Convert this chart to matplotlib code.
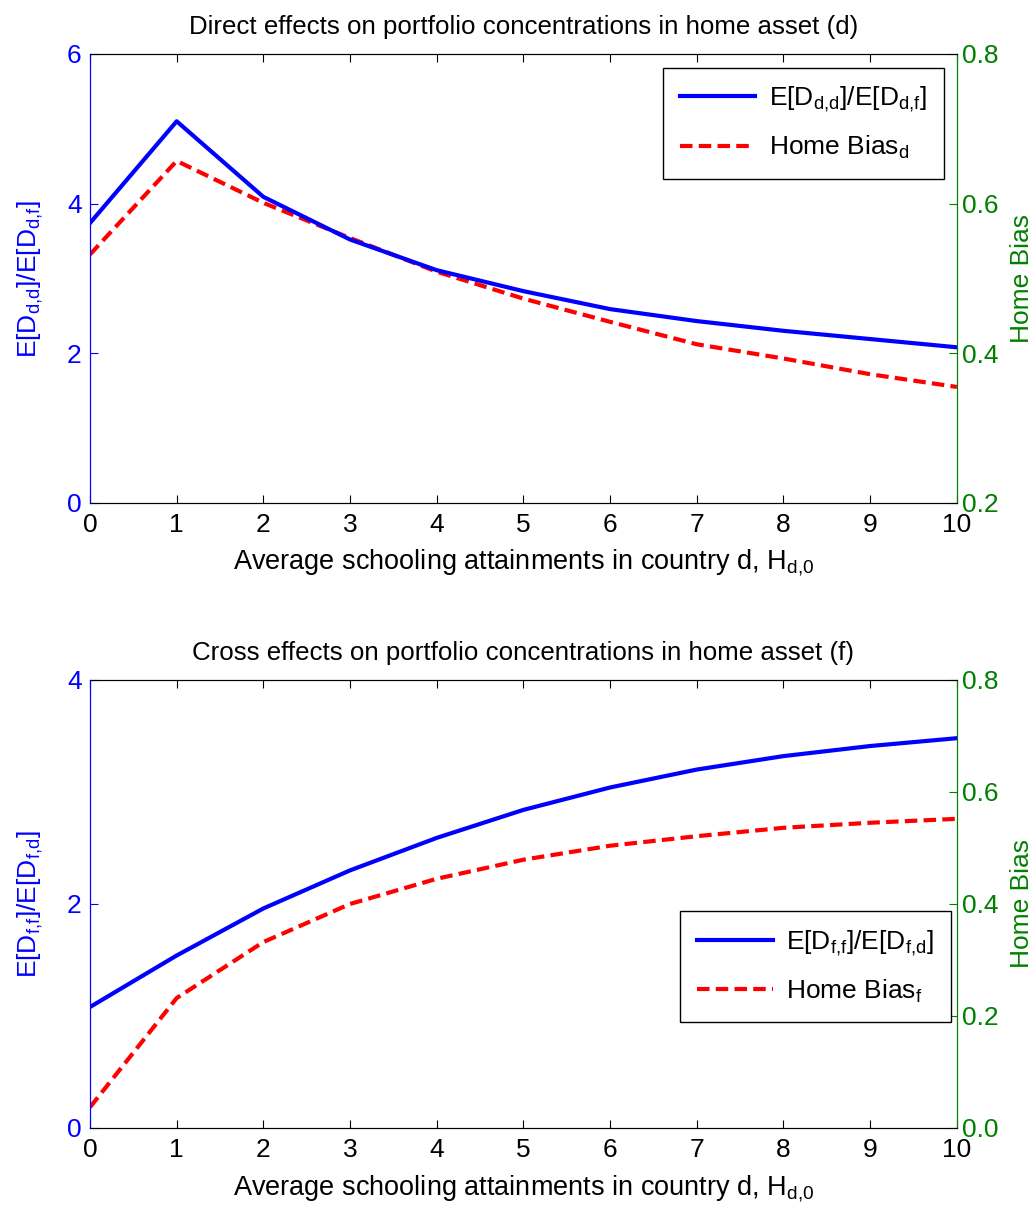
import matplotlib

matplotlib.use("Agg")
import matplotlib.pyplot as plt

plt.rcParams["font.family"] = ["Liberation Sans", "DejaVu Sans"]
plt.rcParams["mathtext.fontset"] = "custom"
plt.rcParams["mathtext.rm"] = "Liberation Sans"
plt.rcParams["mathtext.it"] = "Liberation Sans"
plt.rcParams["mathtext.default"] = "regular"

schooling = [0, 1, 2, 3, 4, 5, 6, 7, 8, 9, 10]

# top panel: direct effects
ratio_d = [3.74, 5.10, 4.09, 3.52, 3.11, 2.83, 2.59, 2.43, 2.30, 2.19, 2.08]
bias_d = [0.532, 0.657, 0.601, 0.554, 0.509, 0.473, 0.442, 0.412, 0.393, 0.372, 0.355]

# bottom panel: cross effects
ratio_f = [1.08, 1.54, 1.96, 2.30, 2.59, 2.84, 3.04, 3.20, 3.32, 3.41, 3.48]
bias_f = [0.037, 0.232, 0.332, 0.400, 0.445, 0.479, 0.504, 0.521, 0.536, 0.545, 0.552]

BLUE = "#0000ff"
RED = "#ff0000"
GREEN = "#008000"
FS = 19


def panel(ax, x, ratio, bias, title, ylab, lab1, lab2, ylim1, yticks1,
          ylim2, yticks2, legend_loc, legend_anchor):
    ax2 = ax.twinx()
    l1, = ax.plot(x, ratio, color=BLUE, lw=3, label=lab1)
    l2, = ax2.plot(x, bias, color=RED, lw=3, ls=(0, (3, 1.5)), label=lab2)
    ax.set_xlim(0, 10)
    ax.set_xticks(range(11))
    ax.set_ylim(*ylim1)
    ax.set_yticks(yticks1)
    ax2.set_ylim(*ylim2)
    ax2.set_yticks(yticks2)
    ax.set_title(title, fontsize=18.6, pad=14)
    ax.set_xlabel("Average schooling attainments in country d, H$_{d{,}0}$",
                  fontsize=19.5, labelpad=8)
    ax.set_ylabel(ylab, color=BLUE, fontsize=FS, labelpad=16)
    ax2.set_ylabel("Home Bias", color=GREEN, fontsize=FS, labelpad=8)

    ax.tick_params(axis="x", direction="in", top=True, labelsize=FS,
                   length=6, pad=7)
    ax.tick_params(axis="y", direction="in", colors=BLUE, labelsize=FS,
                   length=6, pad=6)
    ax2.tick_params(axis="y", direction="in", colors=GREEN, labelsize=FS,
                    length=6, pad=4)
    for a in (ax, ax2):
        a.spines["left"].set_color(BLUE)
        a.spines["right"].set_color(GREEN)
        a.spines["top"].set_color("black")
        a.spines["bottom"].set_color("black")
    leg = ax.legend([l1, l2], [lab1, lab2], loc=legend_loc,
                    bbox_to_anchor=legend_anchor, fontsize=FS,
                    fancybox=False, edgecolor="black", framealpha=1,
                    handlelength=2.85, borderpad=0.65, labelspacing=0.75,
                    handletextpad=0.5, borderaxespad=0)
    leg.get_frame().set_linewidth(1.0)
    leg.set_zorder(10)
    ax.set_zorder(ax2.get_zorder() + 1)
    ax.patch.set_visible(False)
    return ax2


fig = plt.figure(figsize=(10.32, 12.09), dpi=100)
ax_top = fig.add_axes([0.0872, 0.584, 0.840, 0.3714])
ax_bot = fig.add_axes([0.0872, 0.067, 0.840, 0.3706])

panel(ax_top, schooling, ratio_d, bias_d,
      "Direct effects on portfolio concentrations in home asset (d)",
      "E[D$_{d{,}d}$]/E[D$_{d{,}f}$]",
      "E[D$_{d{,}d}$]/E[D$_{d{,}f}$]", "Home Bias$_d$",
      (0, 6), [0, 2, 4, 6], (0.2, 0.8), [0.2, 0.4, 0.6, 0.8],
      "upper right", (0.985, 0.969))
panel(ax_bot, schooling, ratio_f, bias_f,
      "Cross effects on portfolio concentrations in home asset (f)",
      "E[D$_{f{,}f}$]/E[D$_{f{,}d}$]",
      "E[D$_{f{,}f}$]/E[D$_{f{,}d}$]", "Home Bias$_f$",
      (0, 4), [0, 2, 4], (0, 0.8), [0, 0.2, 0.4, 0.6, 0.8],
      "lower right", (0.993, 0.237))

fig.savefig("out.png", dpi=100)
